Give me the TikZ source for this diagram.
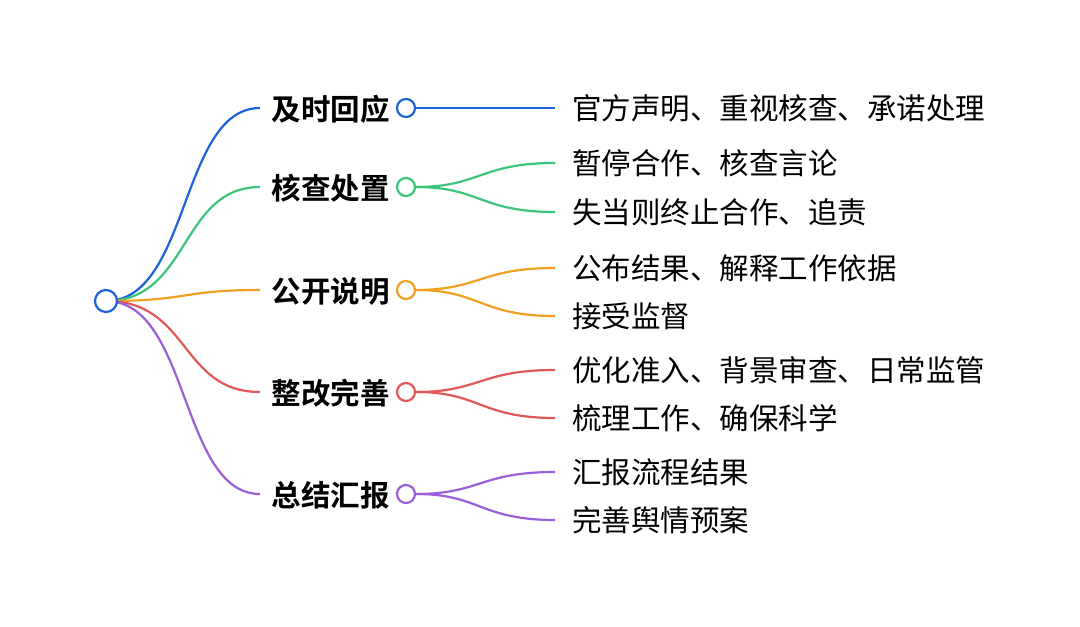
\documentclass[tikz,border=0pt]{standalone}
\usepackage{fontspec}
\setmainfont{Noto Sans CJK SC}
\newfontfamily\cjkb{Noto Sans CJK SC Bold}
\definecolor{cb}{HTML}{1E62D8}
\definecolor{cg}{HTML}{3CC47C}
\definecolor{co}{HTML}{F0A020}
\definecolor{cr}{HTML}{E05858}
\definecolor{cp}{HTML}{9A5FD6}
\begin{document}
\begin{tikzpicture}[x=1pt,y=-1pt,
  lab/.style={anchor=east,font=\cjkb\fontsize{29.5}{32}\selectfont,inner sep=0pt},
  leaf/.style={anchor=west,font=\fontsize{29.5}{32}\selectfont,inner sep=0pt},
  dot/.style={circle,draw=#1,line width=2.2pt,fill=white,minimum size=18pt,inner sep=0pt},
  br/.style={line width=2.2pt,#1}]
\useasboundingbox (0,0) rectangle (1080,627);
\fill[white] (0,0) rectangle (1080,627);
\coordinate (r) at (106,301);
\foreach \n/\y/\c/\t in {a/108/cb/及时回应,b/187/cg/核查处置,c/290/co/公开说明,d/392/cr/整改完善,e/494/cp/总结汇报}{
  \coordinate (s\n) at (260,\y);
  \draw[br=\c] (r) .. controls (190,301) and (180,\y) .. (s\n);
  \node[lab] (l\n) at (390,\y+1) {\t};
  \node[dot=\c] (c\n) at (406,\y) {};
}
\node[circle,draw=cb,line width=2.2pt,fill=white,minimum size=22pt,inner sep=0pt] (root) at (r) {};
% leaves
\newcommand\lf[5]{% circle, y, color, name, text
  \coordinate (e#4) at (555,#2);
  \draw[br=#3] (#1.east) .. controls (480,\csname yy#1\endcsname) and (480,#2) .. (e#4);
  \node[leaf] (t#4) at (572,#2) {#5};}
\def\yyca{108}\def\yycb{187}\def\yycc{290}\def\yycd{392}\def\yyce{494}
\draw[br=cb] (ca.east) -- (555,108) coordinate (ea1);
\node[leaf] (ta1) at (572,108) {官方声明、重视核查、承诺处理};
\lf{cb}{163}{cg}{b1}{暂停合作、核查言论}
\lf{cb}{212}{cg}{b2}{失当则终止合作、追责}
\lf{cc}{268}{co}{c1}{公布结果、解释工作依据}
\lf{cc}{316}{co}{c2}{接受监督}
\lf{cd}{370}{cr}{d1}{优化准入、背景审查、日常监管}
\lf{cd}{418}{cr}{d2}{梳理工作、确保科学}
\lf{ce}{472}{cp}{e1}{汇报流程结果}
\lf{ce}{520}{cp}{e2}{完善舆情预案}
\end{tikzpicture}
\end{document}
